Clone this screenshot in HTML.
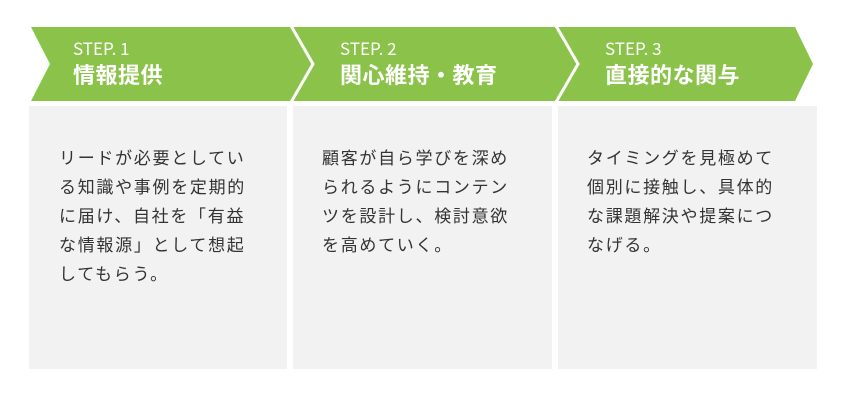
<!DOCTYPE html>
<html><head><meta charset="utf-8"><style>
body{margin:0;width:850px;height:403px;background:#fff;position:relative;overflow:hidden;font-family:"Liberation Sans","Noto Sans CJK JP",sans-serif}
.box{position:absolute;top:106px;height:263px;background:#f2f2f2}
.t{position:absolute;font-size:17px;letter-spacing:1.7px;line-height:29px;color:#333;white-space:nowrap;font-family:"Noto Sans CJK JP",sans-serif}
.s{position:absolute;color:#fff;font-size:17px;top:37px;font-family:"Noto Sans CJK JP",sans-serif;line-height:22px}
.h{position:absolute;color:#fff;font-size:22px;font-weight:bold;top:60px;letter-spacing:0.5px;line-height:32px}
</style></head><body>
<svg width="850" height="403" style="position:absolute;left:0;top:0">
<polygon points="31,27 795,27 813,64 795,101 31,101 50,64" fill="#8bc34a"/>
<polyline points="290,24 313,64 290,104" fill="none" stroke="#fff" stroke-width="3"/>
<polyline points="555,24 578,64 555,104" fill="none" stroke="#fff" stroke-width="3"/>
</svg>
<div class="box" style="left:29px;width:258px"></div>
<div class="box" style="left:293px;width:259px"></div>
<div class="box" style="left:558px;width:259px"></div>
<div class="s" style="left:73px">STEP. 1</div><div class="h" style="left:73px">情報提供</div>
<div class="s" style="left:340px">STEP. 2</div><div class="h" style="left:340px">関心維持・教育</div>
<div class="s" style="left:605px">STEP. 3</div><div class="h" style="left:605px">直接的な関与</div>
<div class="t" style="left:59px;top:142px">リードが必要としてい<br>る知識や事例を定期的<br>に届け、自社を「有益<br>な情報源」として想起<br>してもらう。</div>
<div class="t" style="left:322px;top:142px">顧客が自ら学びを深め<br>られるようにコンテン<br>ツを設計し、検討意欲<br>を高めていく。</div>
<div class="t" style="left:587px;top:142px">タイミングを見極めて<br>個別に接触し、具体的<br>な課題解決や提案につ<br>なげる。</div>
</body></html>
